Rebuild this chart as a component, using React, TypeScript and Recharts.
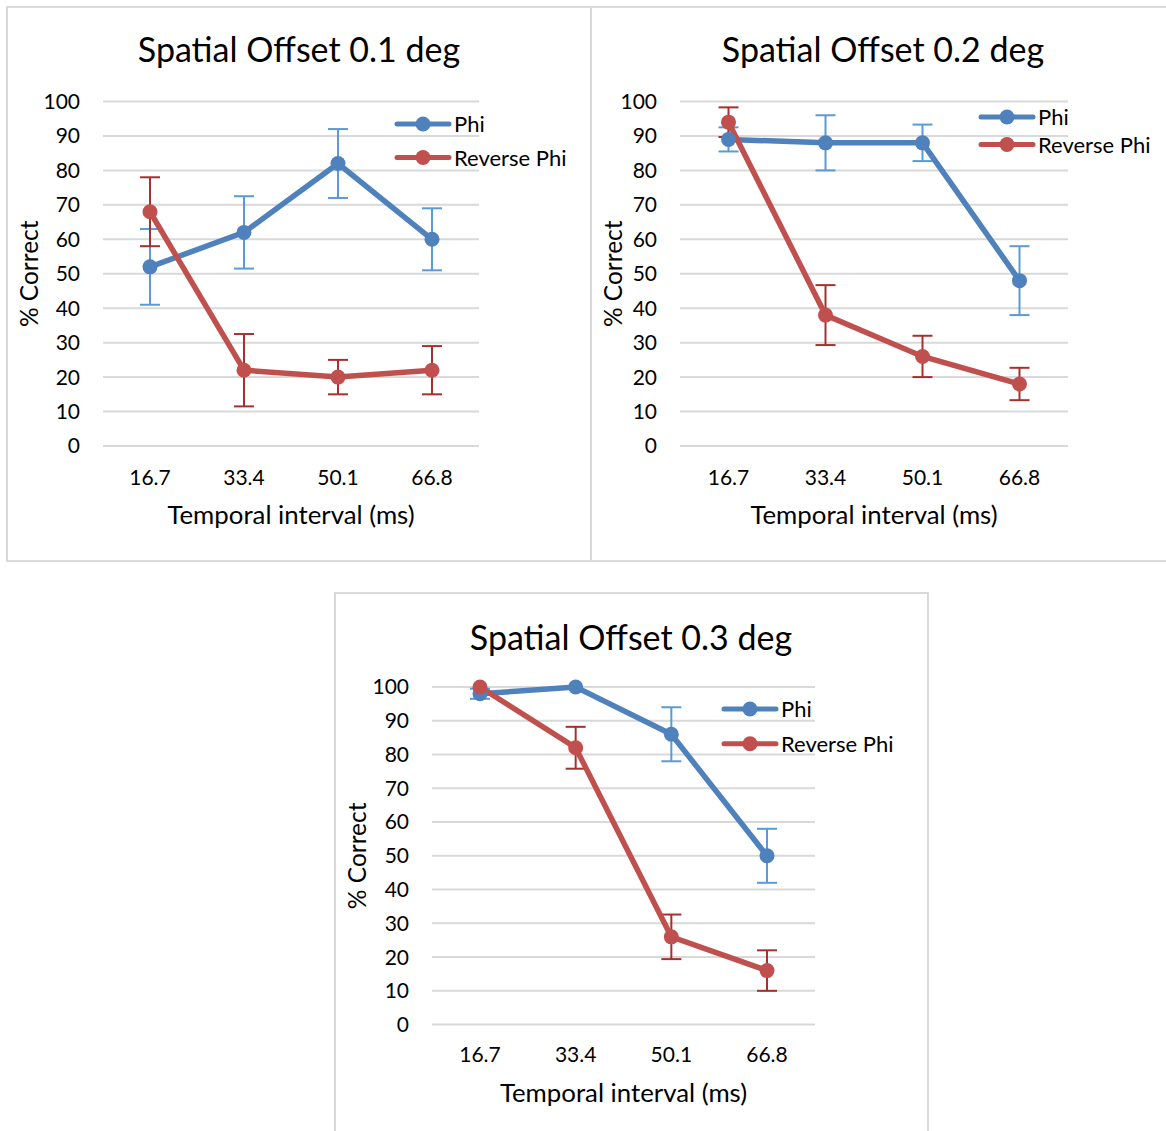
import React from 'react';
import { LineChart, Line, XAxis, YAxis, CartesianGrid, ErrorBar, Legend } from 'recharts';

// ---------- data ----------
const categories = ['16.7', '33.4', '50.1', '66.8'];
const seriesNames = ['Phi', 'Reverse Phi'];
const yTicks = [0, 10, 20, 30, 40, 50, 60, 70, 80, 90, 100];
const titles = ['Spatial Offset 0.1 deg', 'Spatial Offset 0.2 deg', 'Spatial Offset 0.3 deg'];
const xAxisTitle = 'Temporal interval (ms)';
const yAxisTitle = '% Correct';

const phi01 = [52, 62, 82, 60];
const phiErr01 = [11, 10.5, 10, 9];
const rev01 = [68, 22, 20, 22];
const revErr01 = [10, 10.5, 5, 7];

const phi02 = [89, 88, 88, 48];
const phiErr02 = [3.5, 8, 5.3, 10];
const rev02 = [94, 38, 26, 18];
const revErr02 = [4.3, 8.7, 6, 4.7];

const phi03 = [98, 100, 86, 50];
const phiErr03 = [1.5, 0, 8, 8];
const rev03 = [100, 82, 26, 16];
const revErr03 = [0, 6.2, 6.6, 6];

// ---------- styles ----------
const FONT = 'Lato, "Open Sans", sans-serif';
const BLUE = '#4F81BD';
const RED = '#C0504D';
const BLUE_ERR = '#5B9BD5';
const RED_ERR = '#A3322F';
const GRID = '#D9D9D9';
const TEXT = '#000000';

function buildData(phi: number[], phiErr: number[], rev: number[], revErr: number[]) {
  return categories.map((c, i) => ({
    cat: c,
    phi: phi[i],
    phiErr: phiErr[i],
    rev: rev[i],
    revErr: revErr[i],
  }));
}

type Cfg = {
  data: any[];
  title: string;
  box: { left: number; top: number; width: number; height: number };
  origin: { x: number; y: number; w: number; h: number };
  plot: { l: number; r: number; t: number; b: number };
  pad: number;
  legend: { x: number; y: number; gap: number };
  titleCx: number;
  titleBase: number;
  yLabelX: number;
  xLabelBase: number;
  tickMargin: number;
};

const YW = 60;
const XH = 70;

function makeLegend(gap: number) {
  return (props: any) => {
    const payload = [...(props.payload || [])].sort(
      (a: any, b: any) => seriesNames.indexOf(a.value) - seriesNames.indexOf(b.value)
    );
    return (
      <svg width={200} height={gap + 24} style={{ display: 'block', overflow: 'visible' }}>
        {payload.map((p: any, i: number) => {
          const y = 10 + i * gap;
          return (
            <g key={p.value}>
              <line x1={2} x2={54} y1={y} y2={y} stroke={p.color} strokeWidth={5} strokeLinecap="round" />
              <circle cx={28} cy={y} r={7.5} fill={p.color} />
              <text x={59} y={y + 8} fontSize={22} fontFamily={FONT} fill={TEXT}>
                {p.value}
              </text>
            </g>
          );
        })}
      </svg>
    );
  };
}

function Panel({ cfg }: { cfg: Cfg }) {
  const { origin, plot } = cfg;
  const margin = {
    top: plot.t - origin.y,
    left: plot.l - origin.x - YW,
    right: origin.x + origin.w - plot.r,
    bottom: origin.y + origin.h - plot.b - XH,
  };
  return (
    <>
      <div
        style={{
          position: 'absolute',
          left: cfg.box.left,
          top: cfg.box.top,
          width: cfg.box.width,
          height: cfg.box.height,
          border: `2px solid ${GRID}`,
          boxSizing: 'border-box',
        }}
      />
      <svg
        width={600}
        height={60}
        style={{ position: 'absolute', left: cfg.titleCx - 300, top: cfg.titleBase - 40, overflow: 'visible' }}
      >
        <text x={300} y={40} textAnchor="middle" fontSize={34} fontFamily={FONT} fill={TEXT}>
          {cfg.title}
        </text>
      </svg>
      <div style={{ position: 'absolute', left: origin.x, top: origin.y }}>
        <LineChart width={origin.w} height={origin.h} data={cfg.data} margin={margin}>
          <CartesianGrid vertical={false} stroke={GRID} strokeWidth={2} />
          <XAxis
            dataKey="cat"
            type="category"
            height={XH}
            padding={{ left: cfg.pad, right: cfg.pad }}
            axisLine={false}
            tickLine={false}
            tickSize={0}
            tickMargin={cfg.tickMargin}
            tick={{ fontSize: 21, fontFamily: FONT, fill: TEXT }}
            interval={0}
            label={{
              content: (p: any) => {
                const vb = p.viewBox || {};
                return (
                  <text
                    x={vb.x + vb.width / 2}
                    y={vb.y + (cfg.xLabelBase - plot.b)}
                    textAnchor="middle"
                    fontSize={25.8}
                    fontFamily={FONT}
                    fill={TEXT}
                  >
                    {xAxisTitle}
                  </text>
                );
              },
            }}
          />
          <YAxis
            type="number"
            domain={[0, 100]}
            ticks={yTicks}
            width={YW}
            axisLine={false}
            tickLine={false}
            tickSize={0}
            tickMargin={23}
            tick={{ fontSize: 21, fontFamily: FONT, fill: TEXT }}
            interval={0}
            label={{
              content: (p: any) => {
                const vb = p.viewBox || {};
                const cx = cfg.yLabelX - origin.x;
                const cy = vb.y + vb.height / 2;
                return (
                  <text
                    x={cx}
                    y={cy}
                    transform={`rotate(-90, ${cx}, ${cy})`}
                    textAnchor="middle"
                    fontSize={24.5}
                    fontFamily={FONT}
                    fill={TEXT}
                  >
                    {yAxisTitle}
                  </text>
                );
              },
            }}
          />
          <Legend
            layout="vertical"
            align="center"
            verticalAlign="middle"
            content={makeLegend(cfg.legend.gap)}
            wrapperStyle={{
              left: cfg.legend.x - origin.x,
              top: cfg.legend.y - 10 - origin.y,
              width: 200,
              height: cfg.legend.gap + 24,
            }}
          />
          <Line
            name={seriesNames[0]}
            dataKey="phi"
            stroke={BLUE}
            strokeWidth={5.5}
            dot={{ r: 7.5, fill: BLUE, stroke: BLUE, strokeWidth: 0 }}
            activeDot={false}
            isAnimationActive={false}
          >
            <ErrorBar dataKey="phiErr" width={10} strokeWidth={2} stroke={BLUE_ERR} direction="y" />
          </Line>
          <Line
            name={seriesNames[1]}
            dataKey="rev"
            stroke={RED}
            strokeWidth={5.5}
            dot={{ r: 7.5, fill: RED, stroke: RED, strokeWidth: 0 }}
            activeDot={false}
            isAnimationActive={false}
          >
            <ErrorBar dataKey="revErr" width={10} strokeWidth={2} stroke={RED_ERR} direction="y" />
          </Line>
        </LineChart>
      </div>
    </>
  );
}

const panels: Cfg[] = [
  {
    data: buildData(phi01, phiErr01, rev01, revErr01),
    title: titles[0],
    box: { left: 6, top: 6, width: 586, height: 556 },
    origin: { x: 6, y: 6, w: 586, h: 556 },
    plot: { l: 103, r: 479, t: 101.5, b: 446 },
    pad: 47,
    legend: { x: 395, y: 123.5, gap: 33.5 },
    titleCx: 299,
    titleBase: 62,
    yLabelX: 38,
    xLabelBase: 524,
    tickMargin: 24,
  },
  {
    data: buildData(phi02, phiErr02, rev02, revErr02),
    title: titles[1],
    box: { left: 590, top: 6, width: 600, height: 556 },
    origin: { x: 590, y: 6, w: 576, h: 556 },
    plot: { l: 680, r: 1068, t: 101.5, b: 446 },
    pad: 48.5,
    legend: { x: 979, y: 116.5, gap: 27.5 },
    titleCx: 883,
    titleBase: 62,
    yLabelX: 622,
    xLabelBase: 524,
    tickMargin: 24,
  },
  {
    data: buildData(phi03, phiErr03, rev03, revErr03),
    title: titles[2],
    box: { left: 334, top: 592, width: 595, height: 600 },
    origin: { x: 334, y: 592, w: 595, h: 539 },
    plot: { l: 432, r: 815, t: 687, b: 1024.6 },
    pad: 48,
    legend: { x: 722, y: 708.6, gap: 34.8 },
    titleCx: 631,
    titleBase: 649.5,
    yLabelX: 366,
    xLabelBase: 1102,
    tickMargin: 22.5,
  },
];

export default function App() {
  return (
    <div
      style={{
        position: 'absolute',
        left: 0,
        top: 0,
        width: 1166,
        height: 1131,
        overflow: 'hidden',
        background: '#ffffff',
        fontFamily: FONT,
      }}
    >
      {panels.map((p, i) => (
        <Panel key={i} cfg={p} />
      ))}
    </div>
  );
}
